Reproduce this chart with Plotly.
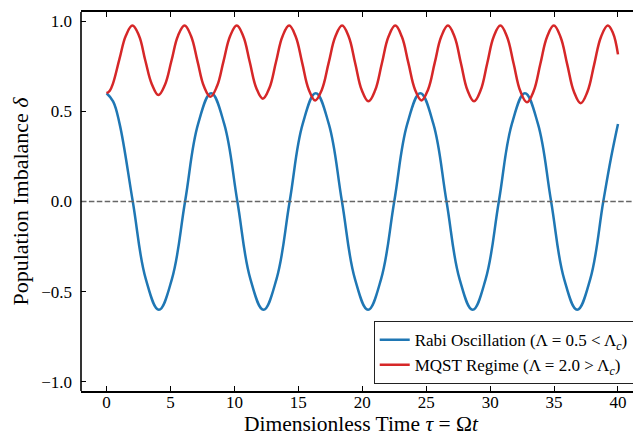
import plotly.graph_objects as go

# values
t_rabi = [0.0, 0.51, 1.02, 2.05, 3.07, 4.09, 5.11, 6.14, 7.16, 8.18, 9.20,
          10.23, 11.25, 12.27, 13.29, 14.32, 15.34, 16.36, 17.38, 18.41, 19.43,
          20.45, 21.47, 22.50, 23.52, 24.54, 25.56, 26.59, 27.61, 28.63, 29.65,
          30.68, 31.70, 32.72, 33.74, 34.77, 35.79, 36.81, 37.83, 38.85, 39.45,
          40.0]
delta_rabi = [0.6, 0.555, 0.43, 0.0, -0.43, -0.6, -0.43, 0.0, 0.43, 0.6, 0.43,
              0.0, -0.43, -0.6, -0.43, 0.0, 0.43, 0.6, 0.43, 0.0, -0.43,
              -0.6, -0.43, 0.0, 0.43, 0.6, 0.43, 0.0, -0.43, -0.6, -0.43,
              0.0, 0.43, 0.6, 0.43, 0.0, -0.43, -0.6, -0.43, 0.0, 0.24,
              0.43]

t_mqst = [0.0, 0.25, 0.505, 1.01, 1.515, 2.02, 2.53, 3.035, 3.54, 4.05, 4.56,
          5.075, 5.59, 6.10, 6.605, 7.11, 7.615, 8.12, 8.635, 9.15, 9.665,
          10.18, 10.69, 11.2, 11.71, 12.22, 12.735, 13.25, 13.765, 14.28, 14.79,
          15.3, 15.81, 16.32, 16.845, 17.37, 17.895, 18.42, 18.935, 19.45, 19.965,
          20.48, 21.005, 21.53, 22.055, 22.58, 23.09, 23.605, 24.12, 24.63, 25.15,
          25.665, 26.18, 26.70, 27.21, 27.72, 28.23, 28.74, 29.255, 29.77, 30.285,
          30.80, 31.32, 31.84, 32.36, 32.88, 33.405, 33.93, 34.455, 34.98, 35.505,
          36.03, 36.555, 37.08, 37.61, 38.14, 38.67, 39.20, 39.6, 40.0]
delta_mqst = [0.6, 0.614, 0.655, 0.79, 0.92, 0.975, 0.92, 0.78, 0.65, 0.59, 0.646,
              0.78, 0.919, 0.975, 0.917, 0.778, 0.638, 0.58, 0.638, 0.778, 0.917,
              0.975, 0.916, 0.773, 0.629, 0.57, 0.629, 0.773, 0.916, 0.975, 0.914,
              0.768, 0.621, 0.56, 0.621, 0.768, 0.914, 0.975, 0.914, 0.765, 0.616,
              0.555, 0.616, 0.765, 0.914, 0.975, 0.914, 0.768, 0.621, 0.56, 0.621,
              0.768, 0.914, 0.975, 0.914, 0.765, 0.616, 0.555, 0.616, 0.765, 0.914,
              0.975, 0.913, 0.763, 0.612, 0.55, 0.612, 0.763, 0.913, 0.975, 0.912,
              0.76, 0.608, 0.545, 0.608, 0.76, 0.912, 0.975, 0.935, 0.815]

x_ticks = [0, 5, 10, 15, 20, 25, 30, 35, 40]
y_ticks = [-1.0, -0.5, 0.0, 0.5, 1.0]

font = "Liberation Serif, Times New Roman, serif"

fig = go.Figure()
fig.add_trace(go.Scatter(
    x=t_rabi, y=delta_rabi, mode="lines",
    line=dict(color="#1f77b4", width=2.5, shape="spline", smoothing=1.15),
    name="Rabi Oscillation (Λ = 0.5 &lt; Λ<sub><i>c</i></sub>)",
    legendgroup="a",
))
fig.add_trace(go.Scatter(
    x=t_mqst, y=delta_mqst, mode="lines",
    line=dict(color="#d62728", width=2.5, shape="spline", smoothing=1.15),
    name="MQST Regime (Λ = 2.0 &gt; Λ<sub><i>c</i></sub>)",
    legendgroup="b",
))
fig.add_hline(y=0, line=dict(color="#666666", width=1.5, dash="5.5px,2.4px"))

# left spine (right one is cut off in the reference)
fig.add_shape(type="line", xref="paper", yref="paper", x0=0, x1=0, y0=0, y1=1,
              line=dict(color="black", width=1.6))

fig.update_xaxes(
    range=[-2.0, 41.8], tickvals=x_ticks, ticks="inside", ticklen=5, tickwidth=1.3,
    tickcolor="black", showline=True, linecolor="black", linewidth=1.6,
    mirror="ticks", showgrid=False, zeroline=False, automargin=False,
    tickfont=dict(family=font, size=17, color="black"), ticklabelstandoff=-5,
    title=dict(text="Dimensionless Time <i>τ</i> = Ω<i>t</i>",
               font=dict(family=font, size=21.5, color="black"), standoff=3),
)
fig.update_yaxes(
    range=[-1.05, 1.05], tickvals=y_ticks, tickformat=".1f", ticks="inside",
    ticklen=5, tickwidth=1.3, tickcolor="black", showline=False, mirror="ticks",
    showgrid=False, zeroline=False, automargin=False,
    tickfont=dict(family=font, size=17, color="black"), ticklabelstandoff=8,
    title=dict(text="Population Imbalance <i>δ</i>",
               font=dict(family=font, size=22, color="black"), standoff=6),
)

# the page puts the figure 8px in from the top-left corner
fig.update_layout(
    width=633, height=428,
    margin=dict(l=73, r=0, t=4, b=45, autoexpand=False),
    plot_bgcolor="white", paper_bgcolor="white",
    font=dict(family=font, color="black"),
    legend=dict(
        x=0.987, y=0.018, xanchor="right", yanchor="bottom",
        bgcolor="white", bordercolor="#222222", borderwidth=1,
        font=dict(family=font, size=17, color="black"),
        traceorder="grouped", tracegroupgap=0,
    ),
)

fig.write_html("out.html")
